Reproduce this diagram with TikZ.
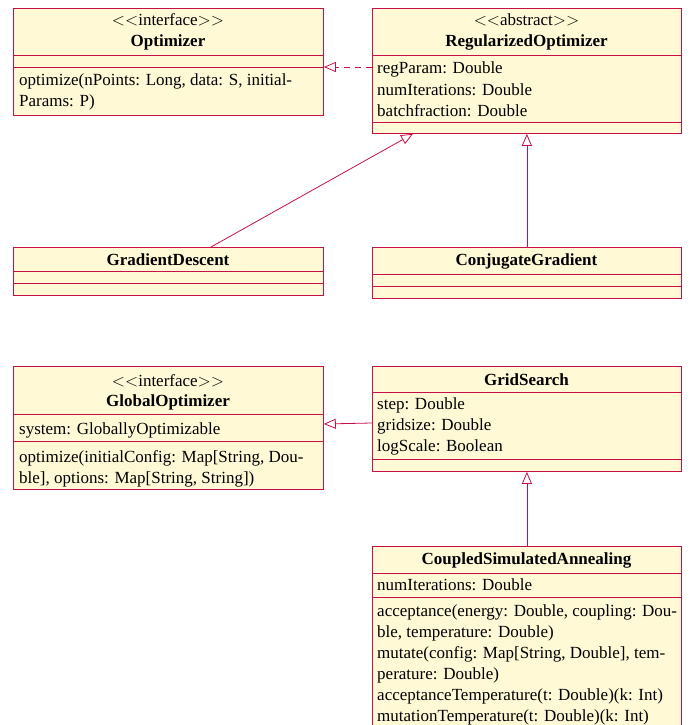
\documentclass[tikz,border=0pt]{standalone}
\usepackage{fontspec}
\setmainfont{Liberation Serif}
\usetikzlibrary{arrows.meta}
\definecolor{umlline}{RGB}{200,16,70}
\definecolor{umlfill}{RGB}{255,249,214}
\begin{document}
\begin{tikzpicture}[x=1pt,y=-1pt,
 cls/.style={draw=umlline,fill=umlfill,line width=0.8pt,inner sep=0pt,anchor=north west},
 sep/.style={draw=umlline,line width=0.8pt},
 txt/.style={font=\fontsize{17}{21}\selectfont,inner sep=0pt,anchor=base west},
 ctr/.style={font=\fontsize{17}{21}\selectfont,inner sep=0pt,anchor=base},
 bld/.style={font=\fontsize{17}{21}\selectfont\bfseries,inner sep=0pt,anchor=base},
 inh/.style={draw=umlline,line width=0.8pt,-{Triangle[open,length=12pt,width=10pt]}},
]
\useasboundingbox (0,0) rectangle (691,725);
\clip (0,0) rectangle (691,725);

% Optimizer
\node[cls,minimum width=310pt,minimum height=107pt] (opt) at (13,8) {};
\draw[sep] (opt.west |- 0,55) -- (opt.east |- 0,55);
\draw[sep] (opt.west |- 0,67) -- (opt.east |- 0,67);
\node[ctr] (opts) at (168,26) {$<<$interface$>>$};
\node[bld] (optn) at (168,47) {Optimizer};
\node[txt] (optm1) at (19,85) {optimize(nPoints: Long, data: S, initial-};
\node[txt] (optm2) at (19,106) {Params: P)};

% RegularizedOptimizer
\node[cls,minimum width=309pt,minimum height=125pt] (reg) at (372,8) {};
\draw[sep] (reg.west |- 0,55) -- (reg.east |- 0,55);
\draw[sep] (reg.west |- 0,122) -- (reg.east |- 0,122);
\node[ctr] (regs) at (526.5,26) {$<<$abstract$>>$};
\node[bld] (regn) at (526.5,47) {RegularizedOptimizer};
\node[txt] (rega1) at (377,74) {regParam: Double};
\node[txt] (rega2) at (377,95) {numIterations: Double};
\node[txt] (rega3) at (377,116) {batchfraction: Double};

% GradientDescent
\node[cls,minimum width=310pt,minimum height=48pt] (gd) at (13,247) {};
\draw[sep] (gd.west |- 0,271) -- (gd.east |- 0,271);
\draw[sep] (gd.west |- 0,283) -- (gd.east |- 0,283);
\node[bld] (gdn) at (168,265) {GradientDescent};

% ConjugateGradient
\node[cls,minimum width=309pt,minimum height=51pt] (cg) at (372,247) {};
\draw[sep] (cg.west |- 0,274) -- (cg.east |- 0,274);
\draw[sep] (cg.west |- 0,286) -- (cg.east |- 0,286);
\node[bld] (cgn) at (526.5,265) {ConjugateGradient};

% GlobalOptimizer
\node[cls,minimum width=310pt,minimum height=123pt] (glob) at (13,366) {};
\draw[sep] (glob.west |- 0,414) -- (glob.east |- 0,414);
\draw[sep] (glob.west |- 0,441) -- (glob.east |- 0,441);
\node[ctr] (globs) at (168,386) {$<<$interface$>>$};
\node[bld] (globn) at (168,406) {GlobalOptimizer};
\node[txt] (globa) at (19,434) {system: GloballyOptimizable};
\node[txt] (globm1) at (19,462) {optimize(initialConfig: Map[String, Dou-};
\node[txt] (globm2) at (19,483) {ble], options: Map[String, String])};

% GridSearch
\node[cls,minimum width=309pt,minimum height=105pt] (gs) at (372,366) {};
\draw[sep] (gs.west |- 0,392) -- (gs.east |- 0,392);
\draw[sep] (gs.west |- 0,459) -- (gs.east |- 0,459);
\node[bld] (gsn) at (526.5,385) {GridSearch};
\node[txt] (gsa1) at (377,409) {step: Double};
\node[txt] (gsa2) at (377,430) {gridsize: Double};
\node[txt] (gsa3) at (377,451) {logScale: Boolean};

% CoupledSimulatedAnnealing
\node[cls,minimum width=309pt,minimum height=200pt] (csa) at (372,546) {};
\draw[sep] (csa.west |- 0,573) -- (csa.east |- 0,573);
\draw[sep] (csa.west |- 0,597) -- (csa.east |- 0,597);
\node[bld] (csan) at (526.5,564) {CoupledSimulatedAnnealing};
\node[txt] (csaa) at (377,590) {numIterations: Double};
\node[txt] (csam1) at (377,616) {acceptance(energy: Double, coupling: Dou-};
\node[txt] (csam2) at (377,637) {ble, temperature: Double)};
\node[txt] (csam3) at (377,658) {mutate(config: Map[String, Double], tem-};
\node[txt] (csam4) at (377,679) {perature: Double)};
\node[txt] (csam5) at (377,700) {acceptanceTemperature(t: Double)(k: Int)};
\node[txt] (csam6) at (377,721) {mutationTemperature(t: Double)(k: Int)};

% connectors
\draw[inh,dash pattern=on 6pt off 5pt] (reg.west |- 0,67) -- (opt.east |- 0,67);
\draw[inh] (gd.north -| 211,0) -- (reg.south -| 413,0);
\draw[inh] (cg.north) -- (reg.south);
\draw[inh] (gs.west |- 0,423) -- (glob.east |- 0,424);
\draw[inh] (csa.north) -- (gs.south);
\end{tikzpicture}
\end{document}
